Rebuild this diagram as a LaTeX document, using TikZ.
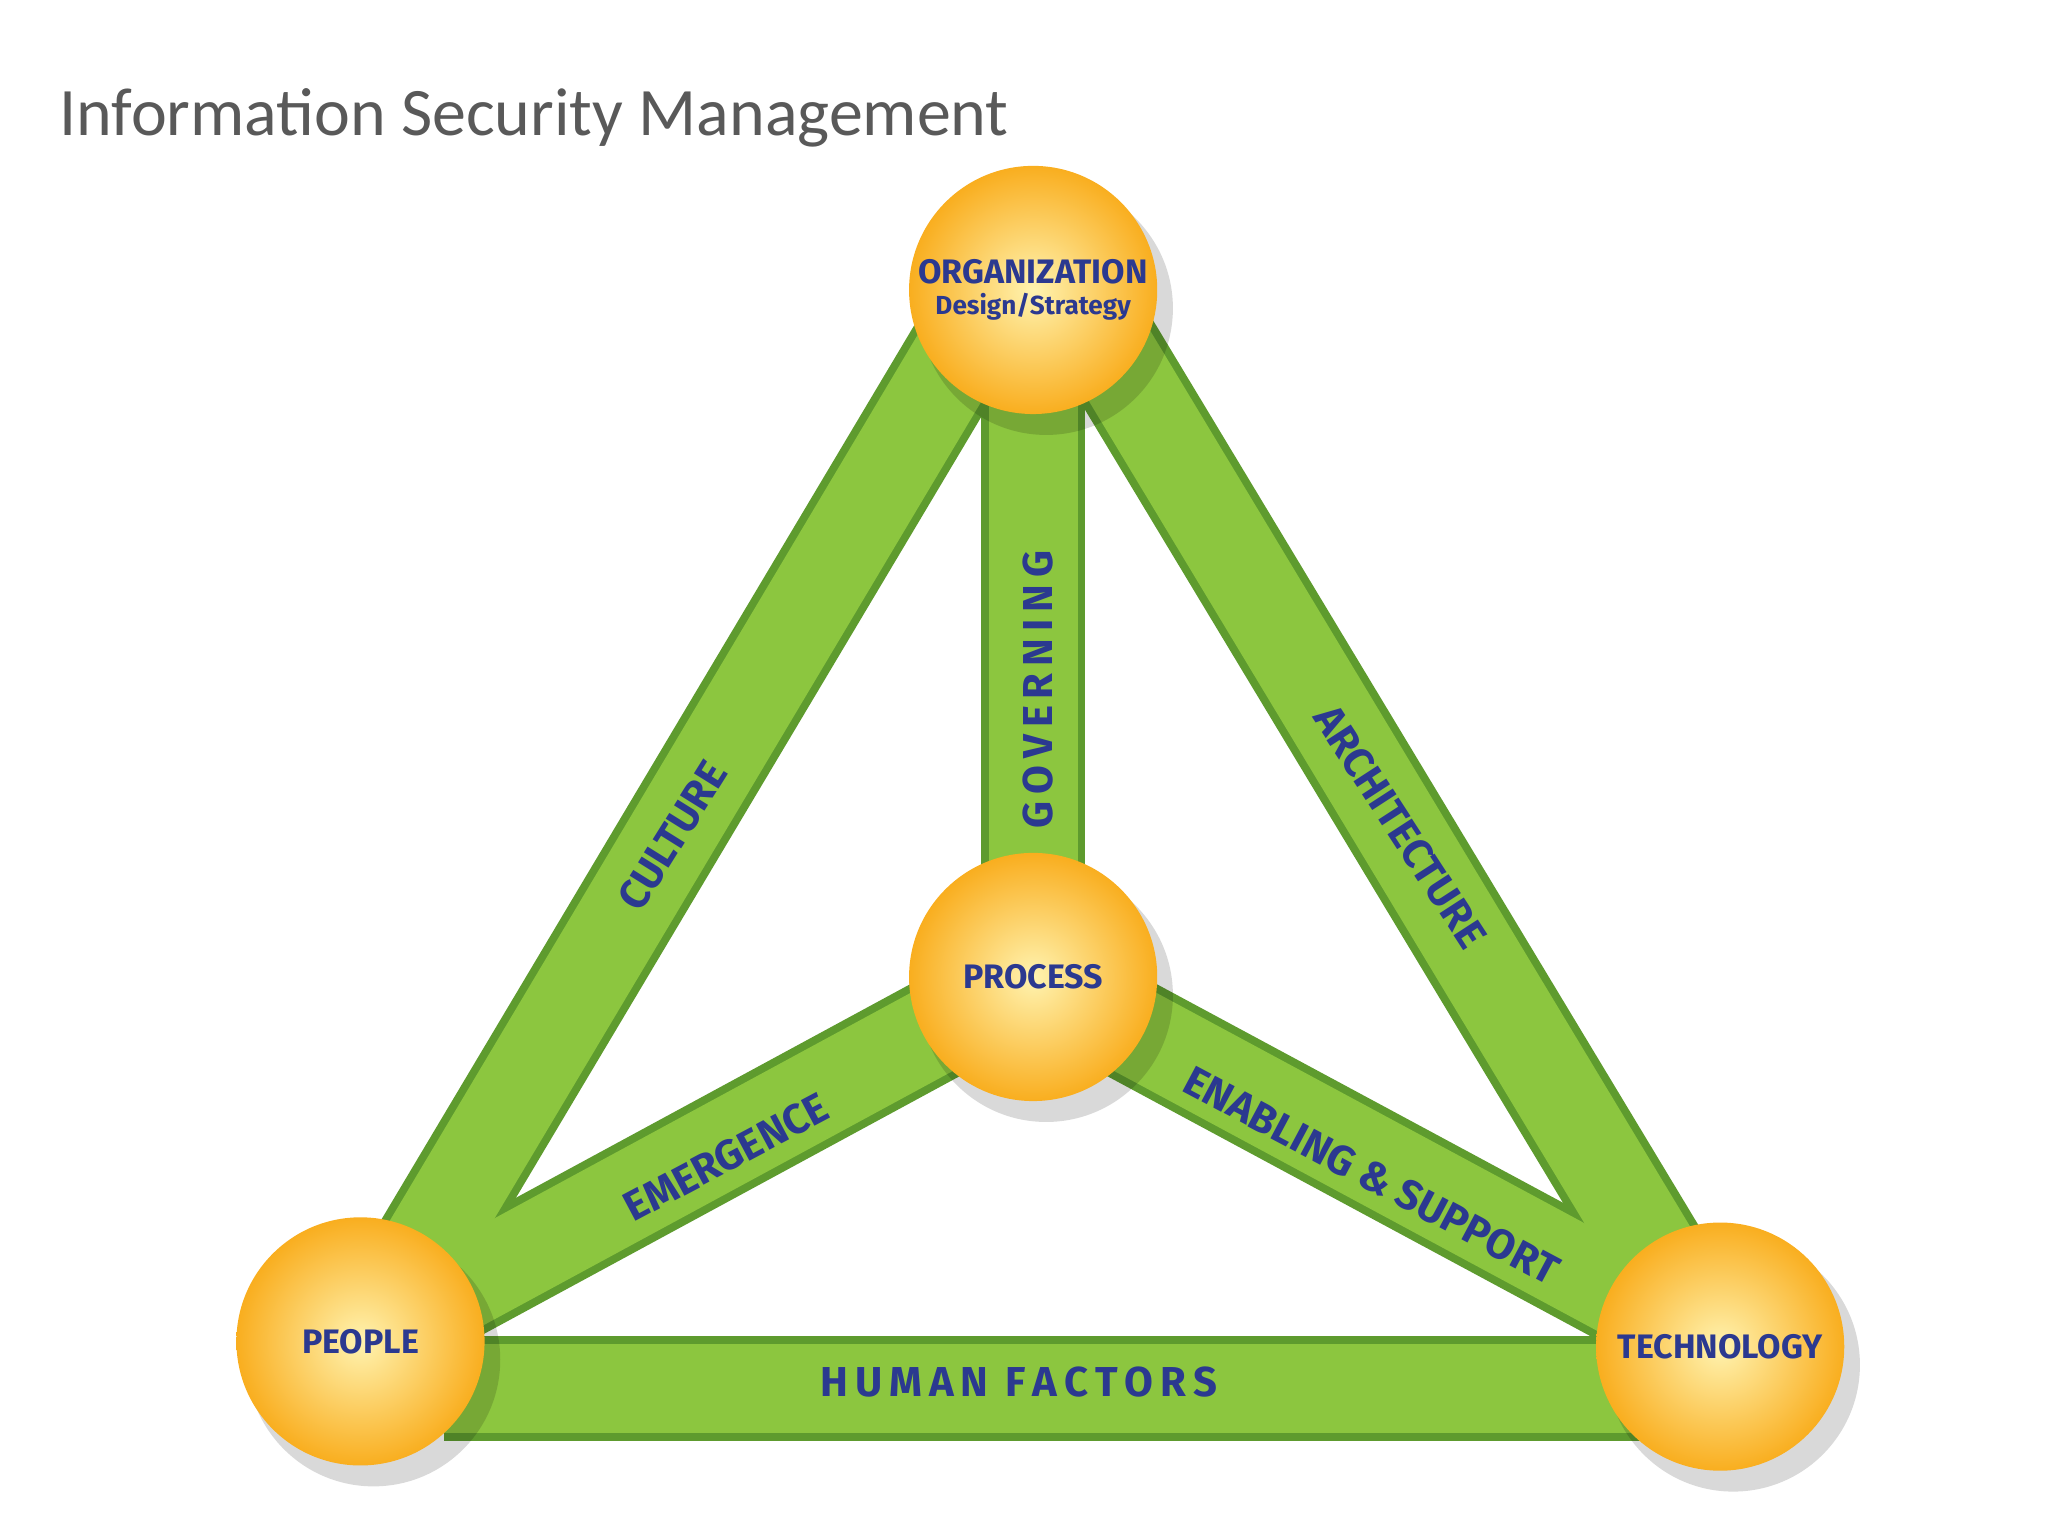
\documentclass[tikz,border=0pt]{standalone}
\usepackage{fontspec}
\usetikzlibrary{calc}
\setmainfont{Carlito}
\newfontfamily\lbl{Fira Sans}[UprightFont=* Bold]
\begin{document}
\begin{tikzpicture}[x=0.5pt,y=-0.5pt]
\definecolor{barg}{HTML}{8CC63F}
\definecolor{bard}{HTML}{5E9B2E}
\definecolor{txtb}{HTML}{2B3990}
\definecolor{ttl}{HTML}{595959}
\definecolor{ballin}{HTML}{FFF3B0}
\definecolor{ballout}{HTML}{F9AE1F}
\tikzset{
 barout/.style={line width=40pt,draw=bard},
 barin/.style={line width=34pt,draw=barg},
 ballshadow/.style={fill=black,opacity=0.15},
 ball/.style={circle,minimum size=95pt,inner sep=0pt,inner color=ballin,outer color=ballout,font=\lbl\fontsize{13}{14}\selectfont,text=txtb,align=center},
 barlbl/.style={font=\lbl\fontsize{16}{18}\selectfont,text=txtb,inner sep=0pt}
}
\useasboundingbox (0,0) rectangle (1568,1176);
\node[anchor=base west,text=ttl,font=\fontsize{26}{28}\selectfont,inner sep=0pt] (title) at (45,104) {Information Security Management};
\coordinate (o) at (791,222);
\coordinate (p) at (791,748);
\coordinate (pe) at (276,1027);
\coordinate (t) at (1317,1031);
\coordinate (bl) at (340,1063);
\coordinate (br) at (1265,1063);
\coordinate (ol) at (740,260);
\coordinate (or) at (845,260);
\coordinate (pel) at (305,990);
\coordinate (tr) at (1285,990);
% bars
\foreach \a/\b in {ol/pel,or/tr,o/p,pe/p,p/t,bl/br}{\draw[barout] (\a)--(\b);}
\foreach \a/\b in {ol/pel,or/tr,o/p,pe/p,p/t,bl/br}{\draw[barin] (\a)--(\b);}
% labels
\node[barlbl,rotate=58] (cul) at (515,640) {CULTURE};
\node[barlbl,rotate=90] (gov) at (795,528) {G\,O\,V\,E\,R\,N\,I\,N\,G};
\node[barlbl,rotate=-57] (arc) at (1072,633) {ARCHITECTURE};
\node[barlbl,rotate=28] (emg) at (556,886) {EMERGENCE};
\node[barlbl,rotate=-28] (ena) at (1050,900) {ENABLING \& SUPPORT};
\node[barlbl] (hum) at (780,1058) {H\,U\,M\,A\,N\ \,F\,A\,C\,T\,O\,R\,S};
% balls
\foreach \c in {o,p,pe,t}{\fill[ballshadow] ($(\c)+(10,14)$) circle (97);}
\node[ball] (org) at (o) {ORGANIZATION\\[-2pt]{\fontsize{10}{11}\selectfont Design/Strategy}};
\node[ball] (proc) at (p) {PROCESS};
\node[ball] (peop) at (pe) {PEOPLE};
\node[ball] (tech) at (t) {TECHNOLOGY};
\end{tikzpicture}
\end{document}
